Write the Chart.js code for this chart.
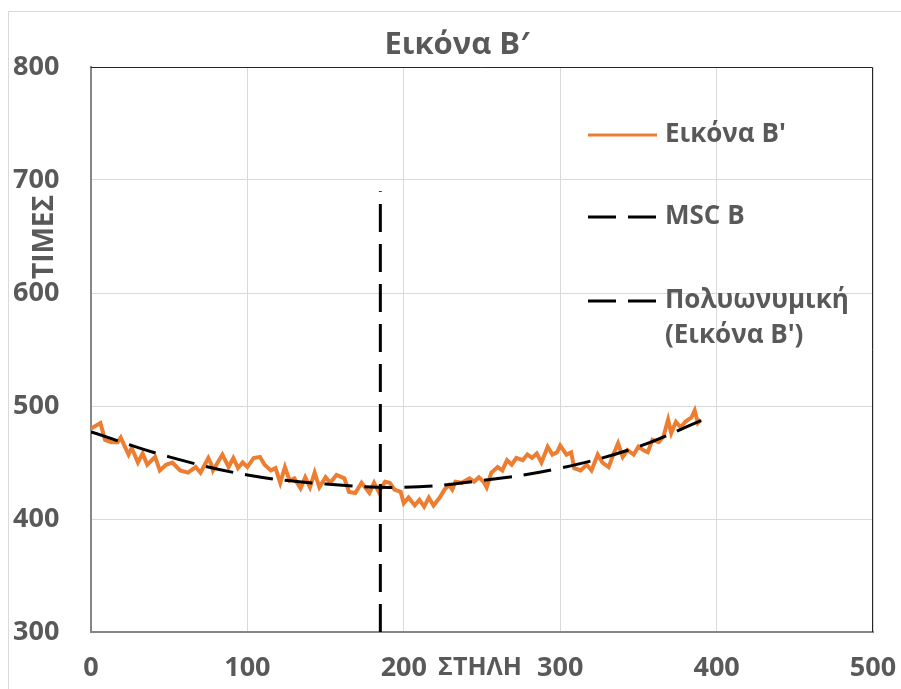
<!DOCTYPE html>
<html>
<head>
<meta charset="utf-8">
<script src="https://cdn.jsdelivr.net/npm/chart.js@4.4.1/dist/chart.umd.min.js"></script>
<style>
  html, body { margin: 0; padding: 0; background: #fff; }
  canvas { display: block; }
</style>
</head>
<body>
<canvas id="myChart" width="901" height="689"></canvas>
<script>
// values
const imgX = [0, 6, 9, 13, 17, 19, 24, 26, 30, 33, 36, 41, 44, 48, 52, 57, 62, 67, 70, 75,
  77, 78, 81, 84, 88, 91, 94, 97, 100, 104, 108, 111, 115, 118, 121, 124, 127, 130, 134, 137,
  140, 143, 146, 150, 153, 157, 162, 165, 169, 173, 178, 181, 184, 188, 191, 194, 198, 200, 203, 207,
  210, 213, 216, 219, 223, 226, 229, 231, 233, 237, 242, 245, 248, 251, 253, 256, 260, 263, 266, 269,
  272, 276, 279, 282, 285, 288, 292, 295, 298, 300, 304, 307, 309, 313, 317, 320, 324, 327, 331, 334,
  337, 340, 343, 347, 350, 353, 356, 359, 363, 366, 369, 371, 374, 377, 380, 384, 386, 388, 390];
const imgY = [480, 485, 470, 468, 468, 472, 457, 463, 450, 458, 448, 455, 443, 448, 450, 443, 441, 446, 441, 454,
  448, 443, 450, 457, 446, 454, 445, 450, 446, 454, 455, 448, 443, 445, 432, 446, 434, 436, 427, 437,
  428, 441, 428, 437, 432, 439, 436, 424, 423, 432, 423, 432, 424, 433, 432, 426, 424, 414, 419, 412,
  417, 411, 419, 412, 419, 426, 430, 426, 433, 432, 436, 433, 437, 433, 428, 441, 446, 443, 452, 448,
  454, 452, 457, 454, 458, 450, 464, 457, 459, 465, 457, 459, 445, 443, 448, 443, 457, 450, 446, 457,
  467, 455, 461, 457, 464, 461, 459, 470, 468, 473, 488, 476, 486, 481, 486, 490, 496, 485, 488];

const mscX = [185, 185];
const mscY = [300, 690];

const trendX = [0, 50, 100, 150, 200, 250, 300, 350, 390];
const trendY = [477, 455, 439, 431, 428, 434, 445, 464, 487];

const xTicks = [0, 100, 200, 300, 400, 500];
const yTicks = [300, 400, 500, 600, 700, 800];

const seriesNames = ["Εικόνα Β'", 'MSC B', "Πολυωνυμική (Εικόνα Β')"];
const chartTitle = 'Εικόνα Β′';
const xTitle = 'ΣΤΗΛΗ';
const yTitle = 'ΤΙΜΕΣ';

const FONT = "'Open Sans', sans-serif";
const GREY = '#595959';

function pairs(xs, ys) {
    return xs.map((x, i) => ({ x: x, y: ys[i] }));
}

const decor = {
    id: 'decor',
    beforeDraw(chart) {
        const c = chart.ctx;
        c.save();
        c.fillStyle = '#fff';
        c.fillRect(0, 0, chart.width, chart.height);
        c.strokeStyle = '#D9D9D9';
        c.lineWidth = 1;
        c.strokeRect(8.5, 11.5, 1000, 1000);
        c.restore();
    },
    afterDraw(chart) {
        const c = chart.ctx;
        const a = chart.chartArea;
        c.save();

        // plot area top / right edge
        c.strokeStyle = '#262626';
        c.lineWidth = 1;
        c.beginPath();
        c.moveTo(a.left, a.top + 0.5);
        c.lineTo(a.right - 0.5, a.top + 0.5);
        c.lineTo(a.right - 0.5, a.bottom);
        c.stroke();

        c.fillStyle = GREY;
        c.textAlign = 'center';
        c.textBaseline = 'middle';

        c.font = 'bold 31px ' + FONT;
        c.fillText(chartTitle, 457, 45);

        c.font = 'bold 25px ' + FONT;
        c.fillText(xTitle, 480, 668);

        c.save();
        c.translate(45, 237);
        c.rotate(-Math.PI / 2);
        c.font = 'bold 28px ' + FONT;
        c.fillText(yTitle, 0, 0);
        c.restore();

        // legend
        const rows = [
            { ds: 0, y: 135, lines: ["Εικόνα Β'"] },
            { ds: 2, y: 217, lines: ['MSC B'] },
            { ds: 1, y: 301, lines: ['Πολυωνυμική', "(Εικόνα Β')"] }
        ];
        rows.forEach(r => {
            const d = chart.data.datasets[r.ds];
            c.strokeStyle = d.borderColor;
            c.lineWidth = 3;
            c.setLineDash(d.borderDash || []);
            c.beginPath();
            c.moveTo(588, r.y);
            c.lineTo(657, r.y);
            c.stroke();
            c.setLineDash([]);
            c.textAlign = 'left';
            c.font = 'bold 26px ' + FONT;
            r.lines.forEach((t, i) => c.fillText(t, 665, r.y + i * 35));
        });
        c.restore();
    }
};

const ctx = document.getElementById('myChart');

new Chart(ctx, {
    type: 'scatter',
    data: {
        datasets: [{
            label: seriesNames[0],
            data: pairs(imgX, imgY),
            showLine: true,
            borderColor: '#ED7D31',
            borderWidth: 4,
            pointRadius: 0,
            tension: 0,
            order: 3
        }, {
            label: seriesNames[2],
            data: pairs(trendX, trendY),
            showLine: true,
            borderColor: '#000000',
            borderWidth: 3,
            borderDash: [28, 12],
            pointRadius: 0,
            tension: 0.4,
            order: 1
        }, {
            label: seriesNames[1],
            data: pairs(mscX, mscY),
            showLine: true,
            borderColor: '#000000',
            borderWidth: 3,
            borderDash: [28, 12],
            pointRadius: 0,
            order: 2
        }]
    },
    options: {
        responsive: false,
        animation: false,
        layout: {
            padding: { left: 13, right: 28, top: 67, bottom: 0 }
        },
        scales: {
            x: {
                type: 'linear',
                min: xTicks[0],
                max: xTicks[xTicks.length - 1],
                afterBuildTicks: s => { s.ticks = xTicks.map(v => ({ value: v })); },
                afterFit: s => { s.height = 57; s.paddingLeft = 0; s.paddingRight = 0; },
                ticks: {
                    color: GREY,
                    padding: 20,
                    font: { family: FONT, size: 27, weight: 'bold' }
                },
                grid: { color: '#D9D9D9', drawTicks: false },
                border: { color: '#868686', width: 2 }
            },
            y: {
                min: yTicks[0],
                max: yTicks[yTicks.length - 1],
                afterBuildTicks: s => { s.ticks = yTicks.map(v => ({ value: v })); },
                afterFit: s => { s.width = 78; s.paddingTop = 0; s.paddingBottom = 0; },
                ticks: {
                    color: GREY,
                    crossAlign: 'far',
                    padding: 0,
                    font: { family: FONT, size: 27, weight: 'bold' }
                },
                grid: { color: '#D9D9D9', drawTicks: false },
                border: { color: '#868686', width: 2 }
            }
        },
        plugins: {
            legend: { display: false },
            title: { display: false },
            tooltip: { enabled: false }
        }
    },
    plugins: [decor]
});
</script>
</body>
</html>
